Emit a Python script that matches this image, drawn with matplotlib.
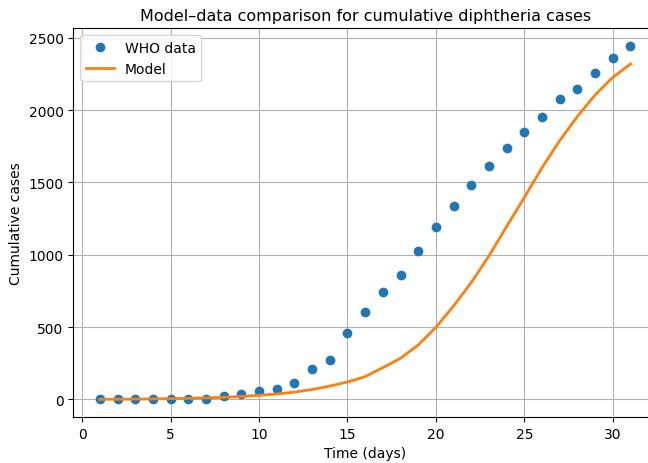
import numpy as np
import matplotlib
matplotlib.use('Agg')
import matplotlib.pyplot as plt

days = np.arange(1, 32)

who_cases = [0, 0, 0, 0, 5, 5, 5, 23, 40, 55, 74, 113, 207, 274, 461,
             607, 745, 859, 1025, 1191, 1336, 1484, 1611, 1738, 1849,
             1950, 2077, 2144, 2257, 2361, 2444]

model_cases = [0, 1, 2, 3, 5, 7, 10, 14, 20, 28, 37, 50, 68, 92, 120,
               157, 219, 284, 376, 498, 646, 808, 992, 1196, 1396,
               1602, 1789, 1957, 2105, 2227, 2319]


def main():
    fig = plt.figure(figsize=(6.48, 4.64), dpi=100)
    # the right spine of the original falls just outside the saved image
    ax = fig.add_axes([0.1131, 0.0991, 0.9008, 0.8378])
    ax.plot(days, who_cases, 'o', label='WHO data')
    ax.plot(days, model_cases, '-', linewidth=2, label='Model')
    ax.set_title('Model–data comparison for cumulative diphtheria cases',
                 fontsize=11.5)
    ax.set_xlabel('Time (days)')
    ax.set_ylabel('Cumulative cases')
    ax.legend(loc='upper left')
    ax.grid(True)
    fig.savefig('out.png', dpi=100)


main()
